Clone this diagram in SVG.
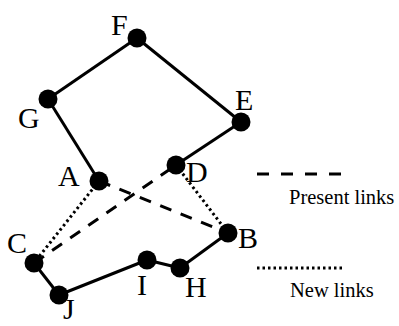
<svg xmlns="http://www.w3.org/2000/svg" width="399" height="326" viewBox="0 0 399 326">
<style>
.solid{stroke:#000;stroke-width:3;fill:none}
.dash{stroke:#000;stroke-width:3;fill:none;stroke-dasharray:12 10}
.dot{stroke:#000;stroke-width:3;fill:none;stroke-dasharray:2.5 3}
.node{fill:#000}
.lbl{font-family:"Liberation Serif","Times New Roman",serif;font-size:30px;fill:#000}
.leg{font-family:"Liberation Serif","Times New Roman",serif;font-size:20.5px;fill:#000}
</style>
<rect width="399" height="326" fill="#fff"/>
<g id="connectors">
<line class="solid" x1="137" y1="38" x2="48" y2="99"/>
<line class="solid" x1="137" y1="38" x2="241" y2="122"/>
<line class="solid" x1="48" y1="99" x2="99" y2="181"/>
<line class="solid" x1="241" y1="122" x2="176" y2="165"/>
<line class="solid" x1="34" y1="263" x2="59" y2="295"/>
<line class="solid" x1="59" y1="295" x2="147" y2="260"/>
<line class="solid" x1="147" y1="260" x2="180" y2="268"/>
<line class="solid" x1="180" y1="268" x2="228" y2="233"/>
<line class="dash" x1="99" y1="181" x2="228" y2="233"/>
<line class="dash" x1="34" y1="263" x2="176" y2="165"/>
<line class="dot" x1="99" y1="181" x2="34" y2="263"/>
<line class="dot" x1="176" y1="165" x2="228" y2="233"/>
</g>
<g id="F"><circle class="node" cx="137" cy="38" r="9.5"/><text class="lbl" x="111" y="35">F</text></g>
<g id="G"><circle class="node" cx="48" cy="99" r="9.5"/><text class="lbl" x="18" y="128">G</text></g>
<g id="E"><circle class="node" cx="241" cy="122" r="9.5"/><text class="lbl" x="235" y="110">E</text></g>
<g id="A"><circle class="node" cx="99" cy="181" r="9.5"/><text class="lbl" x="58" y="186">A</text></g>
<g id="D"><circle class="node" cx="176" cy="165" r="9.5"/><text class="lbl" x="186" y="182">D</text></g>
<g id="B"><circle class="node" cx="228" cy="233" r="9.5"/><text class="lbl" x="238" y="248">B</text></g>
<g id="C"><circle class="node" cx="34" cy="263" r="9.5"/><text class="lbl" x="7" y="253">C</text></g>
<g id="J"><circle class="node" cx="59" cy="295" r="9.5"/><text class="lbl" x="63" y="319">J</text></g>
<g id="I"><circle class="node" cx="147" cy="260" r="9.5"/><text class="lbl" x="137" y="295">I</text></g>
<g id="H"><circle class="node" cx="180" cy="268" r="9.5"/><text class="lbl" x="185" y="297">H</text></g>
<g id="legend">
<line class="solid" x1="257" y1="174" x2="343" y2="174" style="stroke-dasharray:12 12"/>
<text class="leg" x="289" y="204">Present links</text>
<line class="dot" x1="257" y1="268" x2="343" y2="268"/>
<text class="leg" x="290" y="297">New links</text>
</g>
</svg>
